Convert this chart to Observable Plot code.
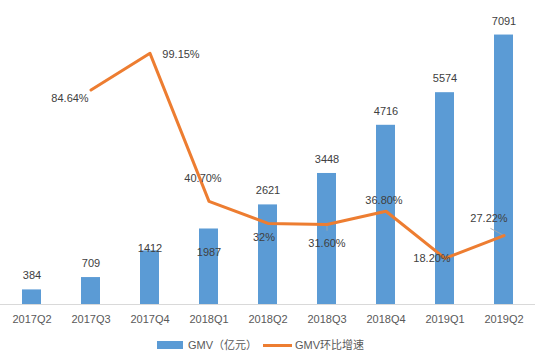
<!DOCTYPE html>
<html>
<head>
<meta charset="utf-8">
<script src="https://cdn.jsdelivr.net/npm/d3@7"></script>
<script src="https://cdn.jsdelivr.net/npm/@observablehq/plot@0.6"></script>
<style>
  body { margin: 0; background: #fff; font-family: "Liberation Sans", "Noto Sans CJK SC", sans-serif; }
  #legend { height: 19px; position: relative; font-size: 11px; color: #595959; }
  #legend .sw { position: absolute; }
  #legend span.t { position: absolute; top: 2px; line-height: 14px; }
</style>
</head>
<body>
<div id="chart"></div>
<div id="legend">
  <div class="sw" style="left:157px;top:5px;width:26px;height:8px;background:#5b9bd5"></div>
  <span class="t" style="left:188px">GMV（亿元）</span>
  <div class="sw" style="left:263px;top:8px;width:29px;height:3px;background:#ed7d31"></div>
  <span class="t" style="left:295px">GMV环比增速</span>
</div>
<script>
const quarters = ["2017Q2","2017Q3","2017Q4","2018Q1","2018Q2","2018Q3","2018Q4","2019Q1","2019Q2"];
const gmv = [384, 709, 1412, 1987, 2621, 3448, 4716, 5574, 7091];
const growthQuarters = ["2017Q3","2017Q4","2018Q1","2018Q2","2018Q3","2018Q4","2019Q1","2019Q2"];
const growth = [84.64, 99.15, 40.70, 32, 31.60, 36.80, 18.20, 27.22];
const growthLabels = ["84.64%","99.15%","40.70%","32%","31.60%","36.80%","18.20%","27.22%"];

// label placement (pixels)
const barLabelDy = [-14, -14, -2, 23, -14, -14, -14, -14, -14];
const lineLabelDx = [-21, 31, -6, -4, 0, -2, -13, -15];
const lineLabelDy = [8, 1, -23, 14, 19, -11, 0, -17];

const yMax = 8000;      // primary axis max
const pMax = 120;       // secondary axis max (%)
const toY = p => p * yMax / pMax;

const bars = quarters.map((q, i) => ({q, v: gmv[i], label: String(gmv[i]), dy: barLabelDy[i]}));
const line = growthQuarters.map((q, i) => ({q, g: growth[i], label: growthLabels[i], dx: lineLabelDx[i], dy: lineLabelDy[i]}));

const textColor = "#404040";

const barLabelMarks = bars.map(d => Plot.text([d], {x: "q", y: "v", text: "label", dy: d.dy, fill: textColor, fontSize: 11}));
const lineLabelMarks = line.map(d => Plot.text([d], {x: "q", y: dd => toY(dd.g), text: "label", dx: d.dx, dy: d.dy, fill: textColor, fontSize: 11}));

// leader lines from points toward their labels
const stick = {draw(context, l) { context.moveTo(0, 0); context.lineTo(0, -l); }};
const leaders = [
  {d: line[4], length: 6, rotate: 180},
  {d: line[7], length: 15, rotate: -62}
].map(o => Plot.vector([o.d], {x: "q", y: dd => toY(dd.g), length: o.length, rotate: o.rotate, anchor: "start",
  shape: stick, stroke: "#a6a6a6", strokeWidth: 0.8}));

const chart = Plot.plot({
  width: 537,
  height: 336,
  marginLeft: 0,
  marginRight: 2,
  marginTop: 0,
  marginBottom: 32,
  x: {domain: quarters, paddingInner: 0.68, paddingOuter: 0.34, label: null},
  y: {domain: [0, yMax], axis: null},
  style: {fontFamily: "Liberation Sans, Noto Sans CJK SC, sans-serif", fontSize: "11px", color: "#595959", background: "#fff"},
  marks: [
    Plot.barY(bars, {x: "q", y: "v", fill: "#5b9bd5"}),
    Plot.ruleY([0], {stroke: "#d9d9d9", strokeWidth: 1}),
    Plot.axisX({tickSize: 0, tickPadding: 11, fill: "#595959", fontSize: 11}),
    ...leaders,
    Plot.line(line, {x: "q", y: d => toY(d.g), stroke: "#ed7d31", strokeWidth: 3}),
    ...barLabelMarks,
    ...lineLabelMarks
  ]
});
document.getElementById("chart").appendChild(chart);
</script>
</body>
</html>
